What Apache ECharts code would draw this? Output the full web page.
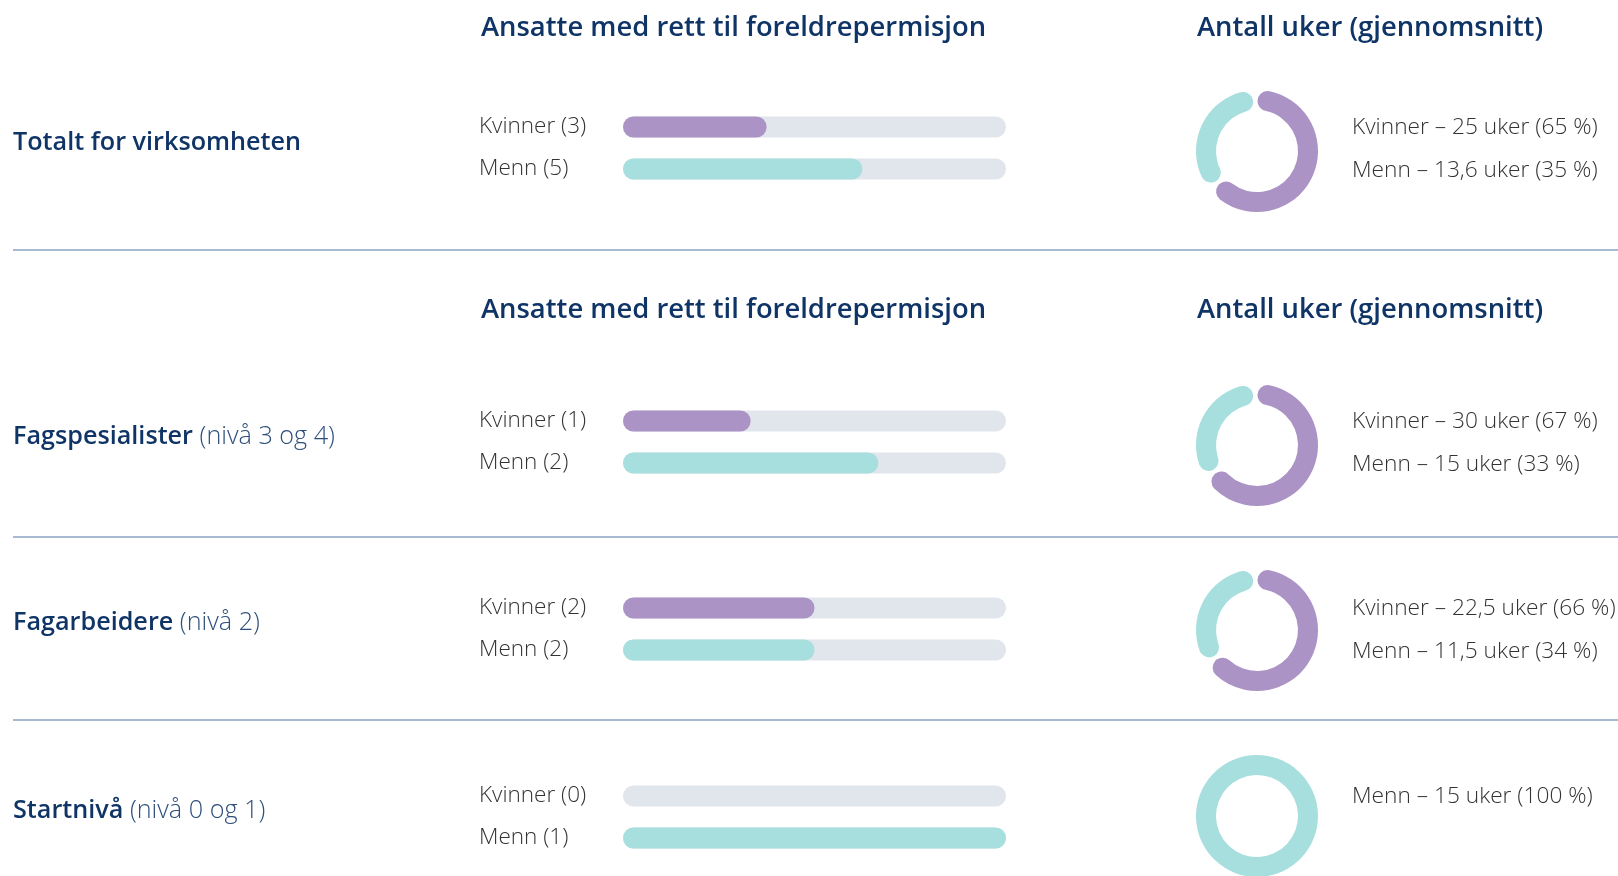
<!DOCTYPE html>
<html>
<head>
<meta charset="utf-8">
<script src="https://cdn.jsdelivr.net/npm/echarts@6/dist/echarts.min.js"></script>
<style>
html, body { margin: 0; padding: 0; background: #fff; }
#main { width: 1618px; height: 876px; }
</style>
</head>
<body>
<div id="main"></div>
<script>
var groups = ['Totalt for virksomheten', 'Fagspesialister', 'Fagarbeidere', 'Startnivå'];
var groupNotes = ['', '(nivå 3 og 4)', '(nivå 2)', '(nivå 0 og 1)'];
var womenCount = [3, 1, 2, 0];
var menCount = [5, 2, 2, 1];
var womenWeeks = [25, 30, 22.5, 0];
var menWeeks = [13.6, 15, 11.5, 15];
var headers = ['Ansatte med rett til foreldrepermisjon', 'Antall uker (gjennomsnitt)'];

// layout (px)
var barRowY = [127, 421, 608, 796];
var labelY = [143, 437, 623, 811];
var donutY = [151, 445, 630, 816];
var headerY = [28, 310];
var lineY = [250, 537, 720];

var navy = '#0f3466';
var purple = '#ab93c6';
var teal = '#a6dfdd';
var track = '#e1e5ec';
var font = 'Open Sans';

var chartDom = document.getElementById('main');
var myChart = echarts.init(chartDom);

function fmt(v) {
  return String(v).replace('.', ',');
}

var grids = [], xAxes = [], yAxes = [], series = [], graphics = [];

groups.forEach(function (g, i) {
  var w = womenCount[i], m = menCount[i];
  grids.push({ left: 623, width: 383, top: barRowY[i] - 21, height: 84 });
  xAxes.push({ gridIndex: i, type: 'value', min: 0, max: w + m, show: false });
  yAxes.push({
    gridIndex: i,
    type: 'category',
    inverse: true,
    data: ['Kvinner (' + w + ')', 'Menn (' + m + ')'],
    axisLine: { show: false },
    axisTick: { show: false },
    axisLabel: {
      align: 'left',
      margin: 144,
      fontSize: 22.5,
      fontWeight: 300,
      fontFamily: font,
      color: '#333',
      padding: [3, 0, 0, 0]
    }
  });
  series.push({
    type: 'bar',
    xAxisIndex: i,
    yAxisIndex: i,
    barWidth: 21,
    showBackground: true,
    backgroundStyle: { color: track, borderRadius: 11 },
    itemStyle: { borderRadius: 11 },
    silent: true,
    data: [
      { value: w, itemStyle: { color: purple } },
      { value: m, itemStyle: { color: teal } }
    ]
  });

  var pieData = [];
  if (womenWeeks[i] > 0) pieData.push({ name: 'Kvinner', value: womenWeeks[i], itemStyle: { color: purple } });
  if (menWeeks[i] > 0) pieData.push({ name: 'Menn', value: menWeeks[i], itemStyle: { color: teal } });
  series.push({
    type: 'pie',
    center: [1257, donutY[i]],
    radius: [41, 61],
    startAngle: 92,
    padAngle: pieData.length > 1 ? 5 : 0,
    itemStyle: { borderRadius: pieData.length > 1 ? 10 : 0 },
    label: { show: false },
    silent: true,
    data: pieData
  });

  var total = womenWeeks[i] + menWeeks[i];
  pieData.forEach(function (d, k) {
    graphics.push({
      type: 'text',
      x: 1352,
      y: barRowY[i] + 1 + k * 42.5,
      style: {
        text: d.name + ' – ' + fmt(d.value) + ' uker (' + Math.round(d.value / total * 100) + ' %)',
        font: '300 22.7px "' + font + '"',
        fill: '#333',
        verticalAlign: 'middle'
      }
    });
  });

  graphics.push({
    type: 'text',
    x: 13,
    y: labelY[i],
    style: {
      text: '{b|' + g + '}' + (groupNotes[i] ? '{n| ' + groupNotes[i] + '}' : ''),
      verticalAlign: 'middle',
      rich: {
        b: { fontSize: 25.2, fontWeight: 600, fontFamily: font, fill: navy, color: navy },
        n: { fontSize: 25.2, fontWeight: 300, fontFamily: font, fill: '#2e4f7c', color: '#2e4f7c' }
      }
    }
  });
});

headerY.forEach(function (y) {
  graphics.push({
    type: 'text', x: 481, y: y,
    style: { text: headers[0], font: '600 27.4px "' + font + '"', fill: navy, verticalAlign: 'middle' }
  });
  graphics.push({
    type: 'text', x: 1197, y: y,
    style: { text: headers[1], font: '600 27.4px "' + font + '"', fill: navy, verticalAlign: 'middle' }
  });
});

lineY.forEach(function (y) {
  graphics.push({
    type: 'line',
    shape: { x1: 13, y1: y, x2: 1618, y2: y },
    style: { stroke: '#8ba3c2', lineWidth: 1.5 }
  });
});

var option = {
  animation: false,
  grid: grids,
  xAxis: xAxes,
  yAxis: yAxes,
  series: series,
  graphic: graphics
};

option && myChart.setOption(option);

window.onresize = function () {
  myChart.resize();
};
</script>
</body>
</html>
